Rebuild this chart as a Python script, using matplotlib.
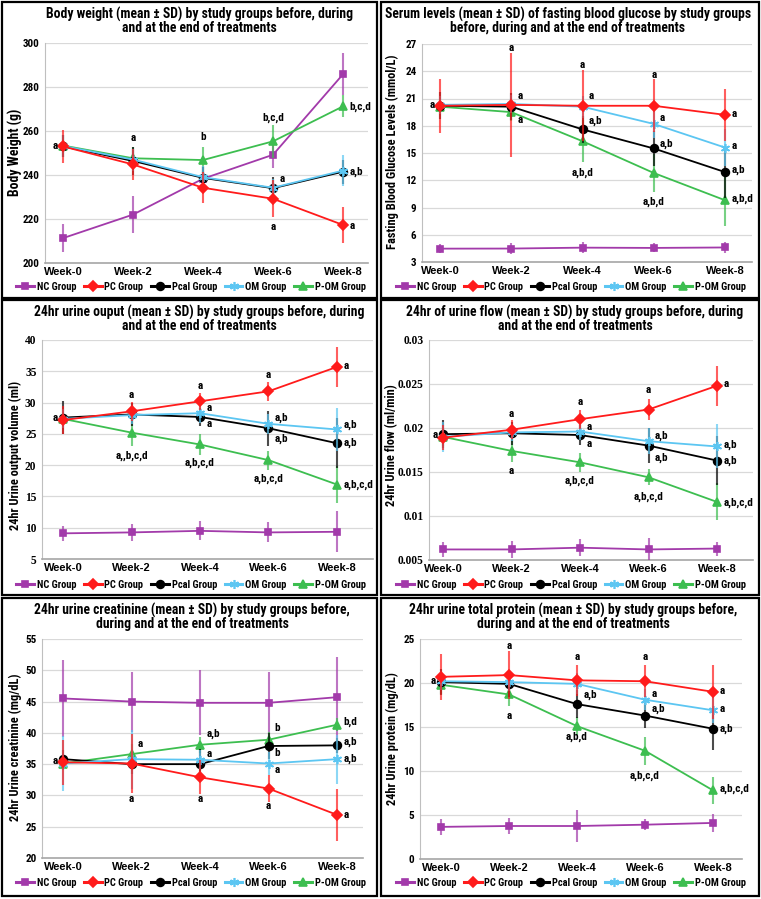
#!/usr/bin/env python3
import matplotlib
matplotlib.use('Agg')  # no display in the sandbox
import matplotlib.pyplot as plt
from matplotlib import font_manager
from matplotlib.lines import Line2D
from matplotlib.patches import Rectangle
from matplotlib.colors import to_rgba
import numpy as np

weeks = ['Week-0', 'Week-2', 'Week-4', 'Week-6', 'Week-8']
groups = ['NC Group', 'PC Group', 'Pcal Group', 'OM Group', 'P-OM Group']

# rows are NC, PC, Pcal, OM, P-OM
bw_mean = [[211.3, 222.0, 238.3, 249.2, 285.8],
           [253.0, 244.8, 234.2, 229.2, 217.3],
           [253.0, 246.4, 238.7, 234.0, 241.5],
           [253.2, 247.0, 239.0, 234.2, 242.0],
           [253.4, 247.6, 246.8, 255.3, 271.2]]
bw_sd = [[6.5, 8.5, 6.0, 6.0, 9.5],
         [7.5, 7.0, 7.0, 8.5, 8.0],
         [5.0, 6.5, 5.0, 5.0, 5.5],
         [5.0, 5.0, 5.0, 4.0, 7.0],
         [5.0, 5.0, 6.0, 7.5, 5.0]]
# (week index, y, letters, side)
bw_letters = [(0, 253.0, 'a', 'l'), (1, 257.0, 'a', 'c'), (2, 257.4, 'b', 'c'),
              (3, 266.2, 'b,c,d', 'c'), (3, 238.1, 'a', 'r'), (3, 216.2, 'a', 'c'),
              (4, 271.0, 'b,c,d', 'r'), (4, 241.3, 'a,b', 'r'), (4, 216.6, 'a', 'r')]

fbg_mean = [[4.47, 4.48, 4.58, 4.55, 4.6],
            [20.2, 20.3, 20.2, 20.2, 19.2],
            [20.2, 20.1, 17.6, 15.5, 12.9],
            [20.3, 20.4, 20.1, 18.2, 15.6],
            [20.1, 19.5, 16.3, 12.8, 9.8]]
fbg_sd = [[0.5, 0.6, 0.6, 0.5, 0.6],
          [3.0, 5.7, 3.9, 2.9, 2.9],
          [1.5, 1.5, 1.5, 1.9, 2.8],
          [1.0, 1.0, 1.2, 1.5, 2.0],
          [0.5, 1.0, 2.3, 2.1, 2.8]]
fbg_letters = [(0, 20.3, 'a', 'l'), (1, 26.6, 'a', 'c'), (1, 21.3, 'a', 'r'), (1, 18.6, 'a', 'r'),
               (2, 24.7, 'a', 'c'), (2, 21.3, 'a', 'r'), (2, 18.5, 'a,b', 'r'), (2, 12.8, 'a,b,d', 'c'),
               (3, 23.6, 'a', 'c'), (3, 18.9, 'a', 'r'), (3, 16.0, 'a,b', 'r'), (3, 9.6, 'a,b,d', 'c'),
               (4, 19.3, 'a', 'r'), (4, 15.8, 'a', 'r'), (4, 13.2, 'a,b', 'r'), (4, 9.9, 'a,b,d', 'r')]

uo_mean = [[9.1, 9.25, 9.5, 9.25, 9.35],
           [27.2, 28.6, 30.2, 31.8, 35.7],
           [27.6, 28.1, 27.7, 25.9, 23.5],
           [27.4, 28.0, 28.3, 26.6, 25.7],
           [27.4, 25.2, 23.3, 20.8, 16.9]]
uo_sd = [[1.2, 1.4, 1.5, 1.6, 3.3],
         [2.3, 1.5, 1.4, 1.5, 3.2],
         [2.6, 1.8, 1.5, 2.8, 4.0],
         [1.5, 1.5, 1.5, 1.6, 3.5],
         [1.0, 2.2, 1.6, 1.5, 3.0]]
uo_letters = [(0, 27.6, 'a', 'l'), (1, 31.2, 'a', 'c'), (1, 21.5, 'a,,b,c,d', 'c'),
              (2, 32.6, 'a', 'c'), (2, 29.2, 'a', 'r'), (2, 26.6, 'a', 'r'), (2, 20.4, 'a,b,c,d', 'c'),
              (3, 34.4, 'a', 'c'), (3, 27.5, 'a,b', 'r'), (3, 24.2, 'a,b', 'r'), (3, 17.8, 'a,b,c,d', 'c'),
              (4, 35.9, 'a', 'r'), (4, 26.5, 'a,b', 'r'), (4, 23.6, 'a,b', 'r'), (4, 16.8, 'a,b,c,d', 'r')]

uf_mean = [[0.0062, 0.0062, 0.0064, 0.0062, 0.0063],
           [0.0189, 0.0198, 0.0210, 0.0221, 0.0248],
           [0.0193, 0.0194, 0.0192, 0.0180, 0.0163],
           [0.0190, 0.0195, 0.0196, 0.0185, 0.0179],
           [0.0190, 0.0174, 0.0161, 0.0144, 0.0116]]
uf_sd = [[0.0009, 0.0010, 0.0010, 0.0013, 0.0008],
         [0.0014, 0.0011, 0.0011, 0.0012, 0.0023],
         [0.0016, 0.0013, 0.0011, 0.0020, 0.0028],
         [0.0017, 0.0010, 0.0010, 0.0015, 0.0025],
         [0.0010, 0.0013, 0.0011, 0.0009, 0.0021]]
uf_letters = [(0, 0.0192, 'a', 'l'), (1, 0.02155, 'a', 'c'), (1, 0.0151, 'a', 'c'),
              (2, 0.0229, 'a', 'c'), (2, 0.0201, 'a', 'r'), (2, 0.0182, 'a', 'r'), (2, 0.0140, 'a,b,c,d', 'c'),
              (3, 0.0243, 'a', 'c'), (3, 0.0191, 'a,b', 'r'), (3, 0.0166, 'a,b', 'r'), (3, 0.0122, 'a,b,c,d', 'c'),
              (4, 0.0250, 'a', 'r'), (4, 0.0181, 'a,b', 'r'), (4, 0.0163, 'a,b', 'r'), (4, 0.0115, 'a,b,c,d', 'r')]

cr_mean = [[45.5, 45.0, 44.8, 44.8, 45.7],
           [35.3, 35.1, 32.9, 31.1, 26.9],
           [35.8, 35.0, 35.0, 37.9, 38.0],
           [35.1, 35.8, 35.7, 35.1, 35.8],
           [35.1, 36.6, 38.1, 38.9, 41.3]]
cr_sd = [[6.1, 4.8, 5.2, 4.9, 6.5],
         [3.6, 4.7, 2.7, 2.1, 4.2],
         [1.5, 1.5, 2.5, 2.0, 1.2],
         [4.4, 4.7, 1.5, 1.8, 3.9],
         [1.0, 1.6, 1.3, 1.2, 1.0]]
cr_letters = [(0, 35.5, 'a', 'l'), (1, 38.2, 'a', 'r'), (1, 29.4, 'a', 'c'),
              (2, 39.8, 'a,b', 'r'), (2, 36.6, 'a', 'r'), (2, 29.4, 'a', 'c'),
              (3, 40.7, 'b', 'r'), (3, 36.8, 'b', 'r'), (3, 34.1, 'a', 'r'), (3, 28.3, 'a', 'c'),
              (4, 41.7, 'b,d', 'r'), (4, 38.5, 'a,b', 'r'), (4, 35.85, 'a,b', 'r'), (4, 26.8, 'a', 'r')]

pr_mean = [[3.65, 3.75, 3.75, 3.9, 4.1],
           [20.7, 20.9, 20.3, 20.2, 19.0],
           [20.1, 19.9, 17.6, 16.3, 14.8],
           [20.2, 20.1, 19.9, 18.1, 16.9],
           [19.8, 18.7, 15.1, 12.3, 7.8]]
pr_sd = [[0.95, 0.9, 1.8, 0.6, 1.0],
         [2.6, 2.7, 1.8, 1.8, 3.1],
         [1.5, 1.5, 1.6, 1.4, 2.4],
         [1.0, 1.0, 1.2, 1.2, 1.5],
         [1.0, 1.3, 1.0, 1.6, 1.5]]
pr_letters = [(0, 20.2, 'a', 'l'), (1, 24.2, 'a', 'c'), (1, 16.2, 'a', 'c'),
              (2, 23.0, 'a', 'c'), (2, 18.6, 'a,b', 'r'), (2, 13.9, 'a,b,d', 'c'),
              (3, 22.9, 'a', 'c'), (3, 18.8, 'a', 'r'), (3, 17.1, 'a,b', 'r'), (3, 9.5, 'a,b,c,d', 'c'),
              (4, 19.1, 'a', 'r'), (4, 17.0, 'a', 'r'), (4, 14.8, 'a,b', 'r'), (4, 8.0, 'a,b,c,d', 'r')]

# styles, same order as groups
colors = ['#A23AAA', '#FF1B1B', '#000000', '#5CC6F2', '#3DBE50']
markers = ['s', 'D', 'o', (6, 2, 0), '^']
msizes = [4.6, 4.8, 5.6, 6.5, 6.3]
draw_order = [0, 4, 2, 3, 1]

FIG_W, FIG_H = 761, 899

installed = {f.name for f in font_manager.fontManager.ttflist}


def pick(cands):
    for c in cands:
        if c in installed:
            return c
    return 'DejaVu Sans'


NARROW = pick(['Roboto Condensed', 'Liberation Sans Narrow', 'DejaVu Sans'])
SANS = pick(['Liberation Sans', 'Arimo', 'DejaVu Sans'])
SERIF = pick(['Liberation Serif', 'Tinos', 'DejaVu Serif'])
plt.rcParams['font.family'] = NARROW


def fx(px):
    return px / FIG_W


def fy(py):
    return 1 - py / FIG_H


def draw_panel(fig, cfg):
    l, t, r, b = cfg['box']
    ax = fig.add_axes([fx(l), fy(b), (r - l) / FIG_W, (b - t) / FIG_H])
    w0, w8 = cfg['wk']
    sp = (w8 - w0) / 4
    ax.set_xlim((l - w0) / sp, (r - w0) / sp)
    ax.set_ylim(cfg['ylim'])

    x = np.arange(len(weeks))
    for z, g in enumerate(draw_order):
        c = colors[g]
        ax.errorbar(x, cfg['mean'][g], yerr=cfg['sd'][g], color=c,
                    ecolor=to_rgba(c, 0.7), elinewidth=1.5, capsize=0,
                    lw=1.3, marker=markers[g], ms=msizes[g], mew=1.2,
                    zorder=3 + z)

    for wk, y, txt, side in cfg['letters']:
        if side == 'l':
            off, ha = (-4, 0), 'right'
        elif side == 'r':
            off, ha = (4.5, 0), 'left'
        else:
            off, ha = (0, 0), 'center'
        ax.annotate(txt, (wk, y), xytext=off, textcoords='offset points',
                    ha=ha, va='center', fontsize=8, fontweight='bold', zorder=10)

    ax.set_xticks(x)
    ax.set_xticklabels(weeks, fontsize=8, fontweight='bold', family=SANS)
    ax.set_yticks(cfg['yticks'])
    ax.set_yticklabels(cfg['yticklabels'], fontsize=cfg.get('ticksize', 8),
                       fontweight='bold', family=cfg.get('tickfont', NARROW))
    ax.tick_params(length=0)
    ax.tick_params(axis='y', pad=4)
    ax.tick_params(axis='x', pad=3)
    ax.grid(axis='y', color='#D9D9D9', lw=0.9)
    ax.set_axisbelow(True)
    for s in ('top', 'right'):
        ax.spines[s].set_visible(False)
    ax.spines['left'].set_color('#BFBFBF')
    ax.spines['bottom'].set_color('#A6A6A6')
    ax.spines['bottom'].set_linewidth(1.2)

    # title, y label and legend placed in figure pixels
    cx, cy = cfg['title_pos']
    fig.text(fx(cx), fy(cy), '\n'.join(cfg['title']), ha='center', va='center',
             multialignment='center', linespacing=0.92, fontsize=9.8, fontweight='bold')
    lx, ly = cfg['ylabel_pos']
    fig.text(fx(lx), fy(ly), cfg['ylabel'], rotation=90, ha='center',
             va='center', fontsize=cfg.get('labelsize', 8.9), fontweight='bold')

    handles = [Line2D([], [], color=colors[g], marker=markers[g], ms=msizes[g],
                      lw=2.2, mew=1.2) for g in range(len(groups))]
    gx, gy = cfg['legend_pos']
    fig.legend(handles, groups, loc='center', bbox_to_anchor=(fx(gx), fy(gy)),
               ncol=5, frameon=False, handlelength=1.7, handletextpad=0.25,
               columnspacing=0.75, borderaxespad=0,
               prop={'size': 7.5, 'weight': 'bold', 'family': NARROW})

    bl, bt, br, bb = cfg['frame']
    fig.add_artist(Rectangle((fx(bl), fy(bb)), (br - bl) / FIG_W, (bb - bt) / FIG_H,
                             transform=fig.transFigure, fill=False,
                             edgecolor='black', lw=1.6))
    return ax


def ticks(lo, hi, step):
    return list(np.arange(lo, hi + step / 2, step))


panels = [
    dict(mean=bw_mean, sd=bw_sd, letters=bw_letters,
         box=(45, 43, 368, 263), wk=(63, 343), ylim=(200, 300),
         yticks=ticks(200, 300, 20), yticklabels=['200', '220', '240', '260', '280', '300'],
         title=['Body weight (mean \u00b1 SD) by study groups before, during',
                'and at the end of treatments'],
         title_pos=(199, 21), ylabel='Body Weight (g)', ylabel_pos=(15, 152),
         labelsize=9.8, legend_pos=(191, 287), frame=(2, 2, 377, 298)),
    dict(mean=fbg_mean, sd=fbg_sd, letters=fbg_letters,
         box=(422, 44, 752, 262), wk=(440, 725), ylim=(3, 27),
         yticks=ticks(3, 27, 3), yticklabels=[str(v) for v in range(3, 28, 3)],
         title=['Serum levels (mean \u00b1 SD) of fasting blood glucose by study groups',
                'before, during and at the end of treatments'],
         title_pos=(568, 21), ylabel='Fasting Blood Glucose Levels (mmol/L)',
         ylabel_pos=(392, 152), legend_pos=(571, 287), frame=(381, 2, 759, 298)),
    dict(mean=uo_mean, sd=uo_sd, letters=uo_letters,
         box=(42, 340, 373, 559), wk=(63, 337), ylim=(5, 40),
         yticks=ticks(5, 40, 5), yticklabels=[str(v) for v in range(5, 41, 5)],
         tickfont=SERIF, ticksize=8.3,
         title=['24hr urine ouput (mean \u00b1 SD) by study groups before, during',
                'and at the end of treatments'],
         title_pos=(199, 319), ylabel='24hr Urine output volume (ml)',
         ylabel_pos=(15, 455), legend_pos=(191, 585), frame=(2, 300, 377, 595)),
    dict(mean=uf_mean, sd=uf_sd, letters=uf_letters,
         box=(429, 340, 753, 560), wk=(443, 717), ylim=(0.005, 0.03),
         yticks=ticks(0.005, 0.03, 0.005),
         yticklabels=['0.005', '0.01', '0.015', '0.02', '0.025', '0.03'],
         tickfont=SERIF, ticksize=8.3,
         title=['24hr of urine flow (mean \u00b1 SD) by study groups before, during',
                'and at the end of treatments'],
         title_pos=(575, 319), ylabel='24hr Urine flow (ml/min)',
         ylabel_pos=(392, 445), legend_pos=(571, 585), frame=(381, 300, 759, 595)),
    dict(mean=cr_mean, sd=cr_sd, letters=cr_letters,
         box=(42, 639, 363, 858), wk=(63, 337), ylim=(20, 55),
         yticks=ticks(20, 55, 5), yticklabels=[str(v) for v in range(20, 56, 5)],
         title=['24hr urine creatinine (mean \u00b1 SD) by study groups before,',
                'during and at the end of treatments'],
         title_pos=(192, 617), ylabel='24hr Urine creatinine (mg/dL)',
         ylabel_pos=(15, 747), legend_pos=(191, 883), frame=(2, 598, 377, 896)),
    dict(mean=pr_mean, sd=pr_sd, letters=pr_letters,
         box=(420, 639, 742, 859), wk=(441, 713), ylim=(0, 25),
         yticks=ticks(0, 25, 5), yticklabels=[str(v) for v in range(0, 26, 5)],
         title=['24hr urine total protein (mean \u00b1 SD) by study groups before,',
                'during and at the end of treatments'],
         title_pos=(573, 617), ylabel='24hr Urine protein (mg/dL)',
         ylabel_pos=(392, 739), legend_pos=(571, 883), frame=(381, 598, 759, 896)),
]


def main():
    fig = plt.figure(figsize=(FIG_W / 100, FIG_H / 100), dpi=100)
    for cfg in panels:
        draw_panel(fig, cfg)
    fig.savefig('out.png', dpi=100)
    plt.close(fig)


if __name__ == '__main__':
    main()
